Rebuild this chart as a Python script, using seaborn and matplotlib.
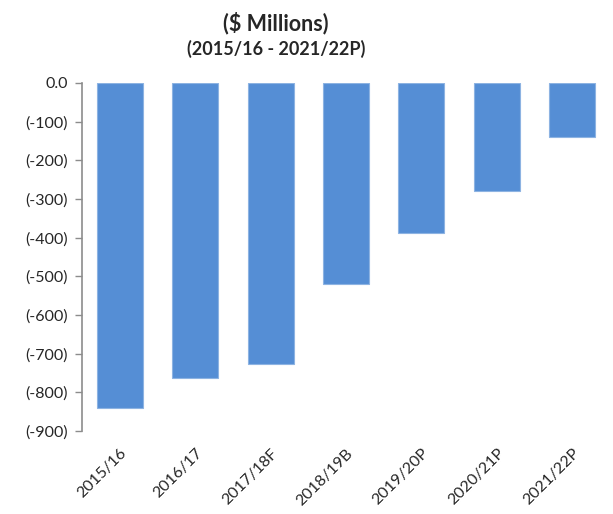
import matplotlib
matplotlib.use("Agg")
import matplotlib.pyplot as plt
import seaborn as sns
import pandas as pd

categories = ["2015/16", "2016/17", "2017/18F", "2018/19B", "2019/20P", "2020/21P", "2021/22P"]
values = [-840, -764, -727, -521, -387, -279, -140]
ytick_values = [0, -100, -200, -300, -400, -500, -600, -700, -800, -900]
ytick_labels = ["0.0", "(-100)", "(-200)", "(-300)", "(-400)", "(-500)", "(-600)", "(-700)", "(-800)", "(-900)"]
title = "($ Millions)"
subtitle = "(2015/16 - 2021/22P)"

sns.set_style("white")
plt.rcParams["font.family"] = ["Lato", "DejaVu Sans"]

df = pd.DataFrame({"cat": categories, "val": values})

fig = plt.figure(figsize=(6.13, 5.14), dpi=100)
ax = fig.add_axes([82 / 613, 1 - 431 / 514, (610 - 82) / 613, (431 - 83) / 514])

sns.barplot(data=df, x="cat", y="val", color="#558ED5", saturation=1, width=0.61,
            edgecolor="#8DB3E2", linewidth=0.8, ax=ax)

ax.set_xlim(-0.5, 6.5)
ax.set_ylim(-900, 0)
ax.set_yticks(ytick_values)
ax.set_yticklabels(ytick_labels, fontsize=11.5)
ax.set_xticks(range(len(categories)))
ax.set_xticklabels(categories, rotation=45, ha="right", rotation_mode="anchor", fontsize=11.5)
ax.tick_params(axis="x", length=0, pad=11)
ax.tick_params(axis="y", length=5, width=1, color="#8C8C8C", direction="out", pad=5, left=True)
ax.set_xlabel("")
ax.set_ylabel("")
for s in ["top", "right", "bottom"]:
    ax.spines[s].set_visible(False)
ax.spines["left"].set_color("#8C8C8C")
ax.spines["left"].set_linewidth(1.2)

fig.text(276 / 613, 1 - 23 / 514, title, ha="center", va="center", fontsize=15.5, fontweight="bold")
fig.text(276 / 613, 1 - 49 / 514, subtitle, ha="center", va="center", fontsize=13, fontweight="bold")

fig.savefig("out.png", dpi=100)
